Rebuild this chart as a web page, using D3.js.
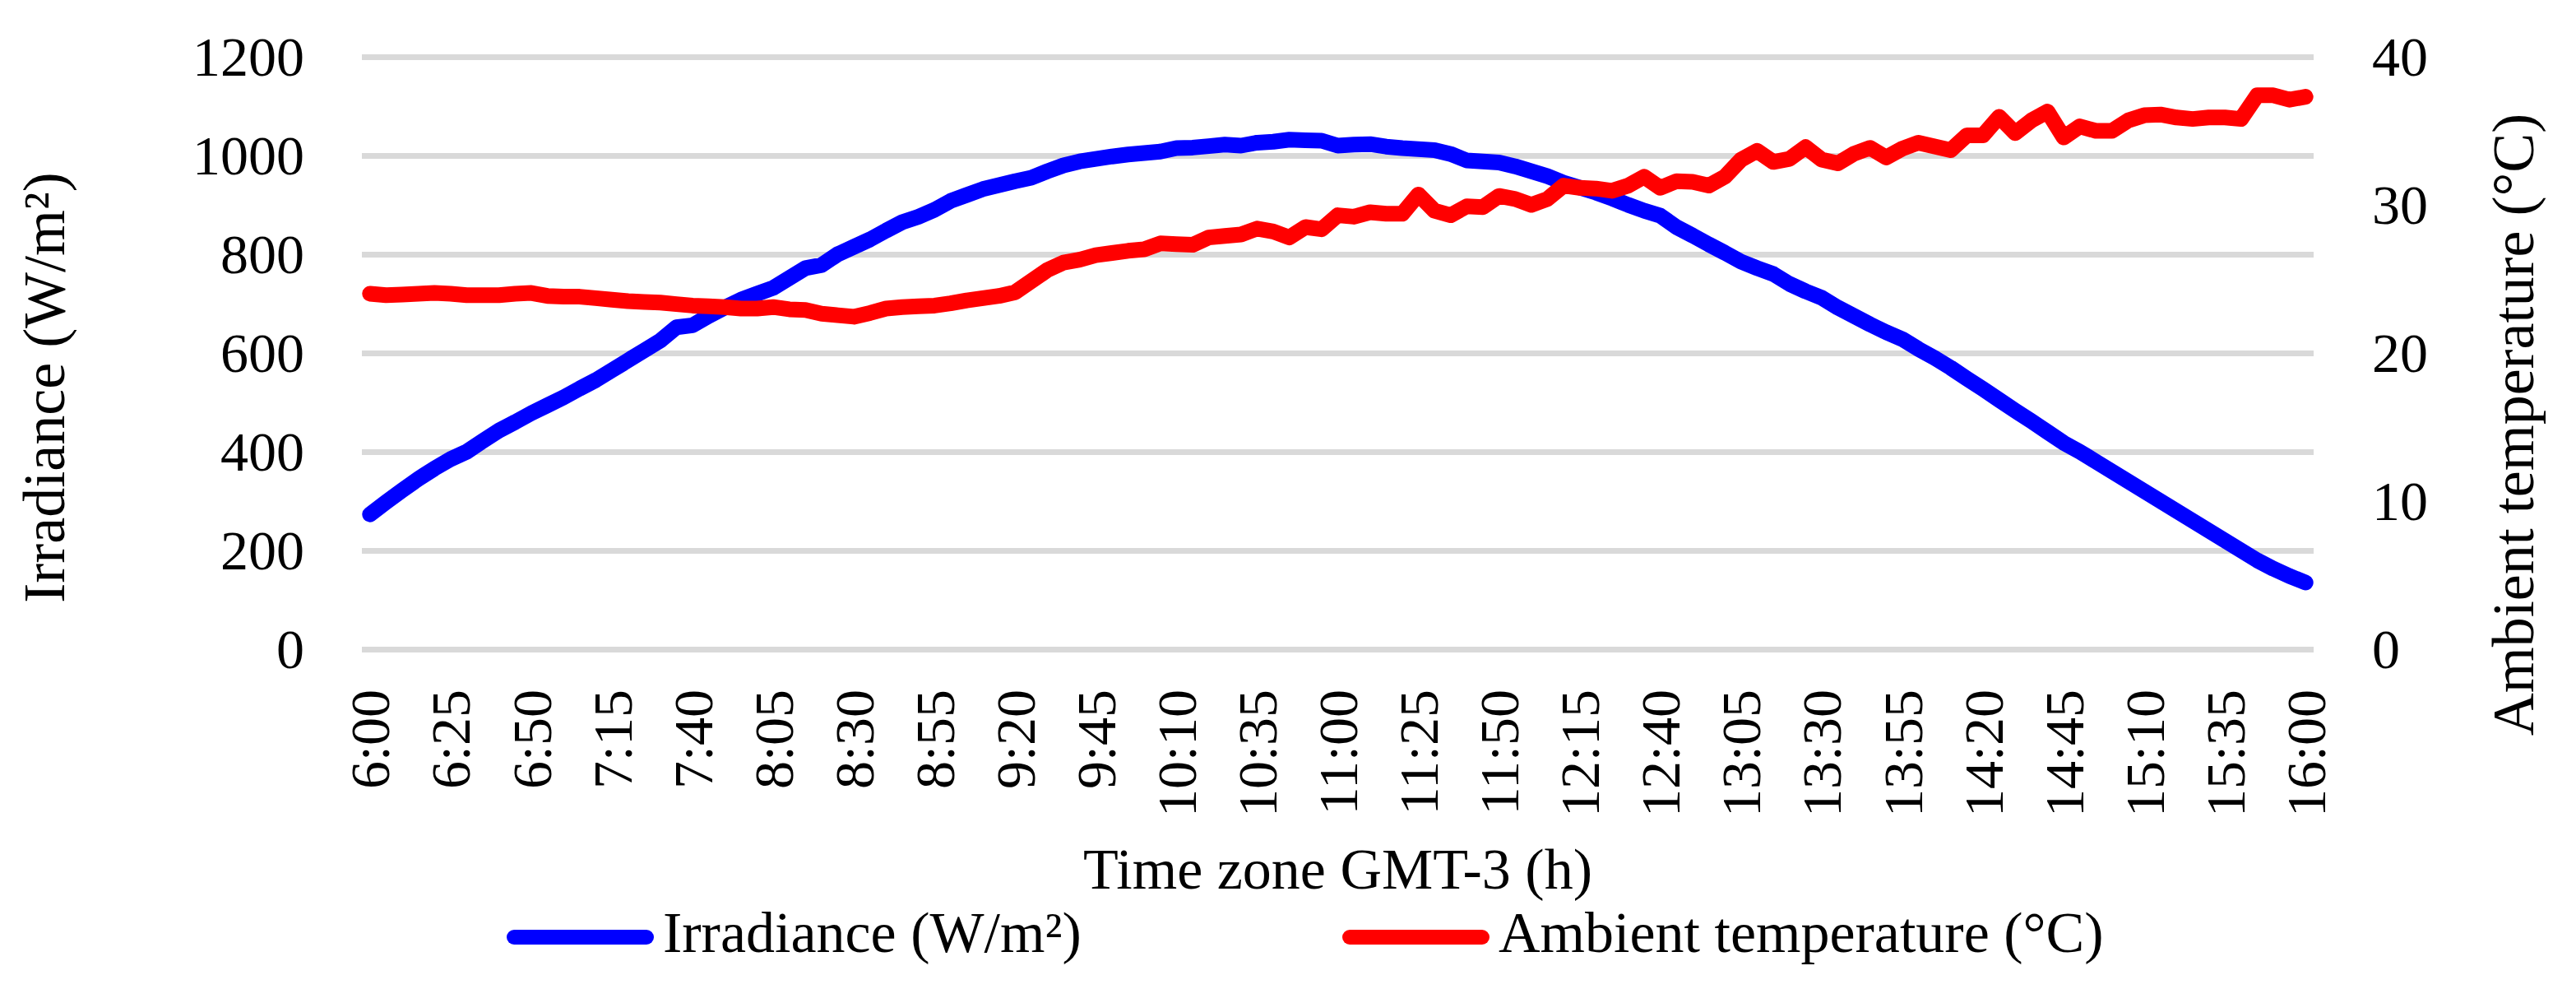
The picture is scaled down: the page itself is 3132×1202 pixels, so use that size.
<!DOCTYPE html>
<html>
<head>
<meta charset="utf-8">
<script src="https://cdn.jsdelivr.net/npm/d3@7"></script>
<style>
  body { margin: 0; background: #fff; }
  text { font-family: "Liberation Serif", "Times New Roman", serif; fill: #000; }
</style>
</head>
<body>
<svg id="chart" width="3132" height="1202"></svg>
<script>
// Datos: 121 lecturas cada 5 min entre 6:00 y 16:00
const startMinutes = 6 * 60;
const stepMinutes = 5;
const tickLabels = [
  "6:00", "6:25", "6:50", "7:15", "7:40", "8:05", "8:30", "8:55", "9:20",
  "9:45", "10:10", "10:35", "11:00", "11:25", "11:50", "12:15", "12:40",
  "13:05", "13:30", "13:55", "14:20", "14:45", "15:10", "15:35", "16:00"
];

const irradiance = [
  273, 298, 322, 345, 366, 385, 400, 422, 443, 460,
  478, 494, 510, 528, 545, 565, 585, 605, 625, 652,
  656, 675, 692, 708, 720, 732, 752, 772, 778, 800,
  815, 830, 848, 865, 876, 890, 908, 920, 932, 940,
  948, 955, 968, 980, 988, 993, 998, 1002, 1005, 1008,
  1015, 1016, 1019, 1022, 1020, 1026, 1028, 1032, 1031, 1030,
  1020, 1022, 1023, 1018, 1015, 1013, 1011, 1003, 990, 988,
  986, 978, 968, 958, 945, 935, 925, 913, 900, 888,
  878, 855, 838, 820, 803, 785, 772, 760, 740, 725,
  712, 692, 675, 658, 642, 628, 608, 590, 570, 548,
  527, 505, 483, 462, 440, 418, 400, 380, 360, 340,
  320, 300, 280, 260, 240, 220, 200, 180, 163, 148,
  135
];

const temperature = [
  24.0, 23.9, 23.95, 24.0, 24.05, 24.0, 23.9, 23.9, 23.9, 24.0,
  24.05, 23.85, 23.8, 23.8, 23.7, 23.6, 23.5, 23.45, 23.4, 23.3,
  23.2, 23.15, 23.1, 23.0, 23.0, 23.1, 22.95, 22.9, 22.65, 22.55,
  22.45, 22.7, 23.0, 23.1, 23.15, 23.2, 23.35, 23.55, 23.7, 23.85,
  24.1, 24.85, 25.6, 26.1, 26.3, 26.6, 26.75, 26.9, 27.0, 27.4,
  27.35, 27.3, 27.8, 27.9, 28.0, 28.4, 28.2, 27.8, 28.5, 28.35,
  29.3, 29.2, 29.5, 29.4, 29.4, 30.7, 29.6, 29.3, 29.9, 29.85,
  30.6, 30.4, 30.0, 30.4, 31.3, 31.15, 31.1, 30.95, 31.3, 31.9,
  31.15, 31.6, 31.55, 31.3, 31.9, 33.05, 33.65, 32.9, 33.1, 33.9,
  33.05, 32.8, 33.45, 33.85, 33.2, 33.8, 34.2, 33.95, 33.7, 34.7,
  34.7, 35.95, 34.85, 35.7, 36.3, 34.55, 35.3, 35.0, 35.0, 35.7,
  36.05, 36.1, 35.9, 35.8, 35.9, 35.9, 35.8, 37.4, 37.4, 37.1,
  37.3
];

const leftTicks = [0, 200, 400, 600, 800, 1000, 1200];
const rightTicks = [0, 10, 20, 30, 40];

const seriesNames = ["Irradiance (W/m\u00b2)", "Ambient temperature (\u00b0C)"];
const seriesColors = ["#0000ff", "#ff0000"];

function fmtTime(m) {
  return Math.floor(m / 60) + ":" + String(m % 60).padStart(2, "0");
}
const categories = irradiance.map((d, i) => fmtTime(startMinutes + i * stepMinutes));

// Layout
const plot = { left: 440, right: 2813, top: 69, bottom: 789 };
const svg = d3.select("#chart");

const x = d3.scalePoint()
  .domain(categories)
  .range([plot.left, plot.right])
  .padding(0.5);

const yLeft = d3.scaleLinear().domain([0, 1200]).range([plot.bottom, plot.top]);
const yRight = d3.scaleLinear().domain([0, 40]).range([plot.bottom, plot.top]);

// Rejilla horizontal
svg.append("g")
  .attr("transform", `translate(${plot.left},0)`)
  .call(d3.axisLeft(yLeft).tickValues(leftTicks).tickSize(-(plot.right - plot.left)).tickFormat(""))
  .call(g => g.select(".domain").remove())
  .call(g => g.selectAll("line").attr("stroke", "#d9d9d9").attr("stroke-width", 7));

// Eje izquierdo
svg.append("g")
  .attr("transform", `translate(${plot.left - 70},0)`)
  .call(d3.axisLeft(yLeft).tickValues(leftTicks).tickSize(0).tickPadding(0).tickFormat(d3.format("d")))
  .call(g => g.select(".domain").remove())
  .call(g => g.selectAll("text")
    .attr("font-size", 68)
    .attr("font-family", null)
    .attr("dy", "0.33em"));

// Eje derecho
svg.append("g")
  .attr("transform", `translate(${2884},0)`)
  .call(d3.axisRight(yRight).tickValues(rightTicks).tickSize(0).tickPadding(0))
  .call(g => g.select(".domain").remove())
  .call(g => g.selectAll("text")
    .attr("font-size", 68)
    .attr("font-family", null)
    .attr("dy", "0.33em"));

// Eje X con etiquetas verticales
svg.append("g")
  .attr("transform", `translate(0,${plot.bottom})`)
  .call(d3.axisBottom(x).tickValues(tickLabels).tickSize(0))
  .call(g => g.select(".domain").remove())
  .call(g => g.selectAll("text")
    .attr("font-size", 68)
    .attr("font-family", null)
    .attr("text-anchor", "end")
    .attr("transform", "rotate(-90)")
    .attr("x", -49)
    .attr("y", 0)
    .attr("dy", "0.34em"));

// Líneas
const lineIrr = d3.line()
  .x((d, i) => x(categories[i]))
  .y(d => yLeft(d));
const lineTemp = d3.line()
  .x((d, i) => x(categories[i]))
  .y(d => yRight(d));

svg.append("path")
  .datum(irradiance)
  .attr("d", lineIrr)
  .attr("fill", "none")
  .attr("stroke", seriesColors[0])
  .attr("stroke-width", 19)
  .attr("stroke-linejoin", "round")
  .attr("stroke-linecap", "round");

svg.append("path")
  .datum(temperature)
  .attr("d", lineTemp)
  .attr("fill", "none")
  .attr("stroke", seriesColors[1])
  .attr("stroke-width", 19)
  .attr("stroke-linejoin", "round")
  .attr("stroke-linecap", "round");

// Títulos de ejes
svg.append("text")
  .attr("transform", `translate(78,471) rotate(-90)`)
  .attr("text-anchor", "middle")
  .attr("font-size", 72)
  .text("Irradiance (W/m\u00b2)");

svg.append("text")
  .attr("transform", `translate(3080,516) rotate(-90)`)
  .attr("text-anchor", "middle")
  .attr("font-size", 72)
  .text("Ambient temperature (\u00b0C)");

svg.append("text")
  .attr("x", (plot.left + plot.right) / 2)
  .attr("y", 1080)
  .attr("text-anchor", "middle")
  .attr("font-size", 70)
  .text("Time zone GMT-3 (h)");

// Leyenda
const legendX = [617, 1633];
const legend = svg.selectAll("g.legend")
  .data(seriesNames)
  .enter()
  .append("g")
  .attr("class", "legend")
  .attr("transform", (d, i) => `translate(${legendX[i]},1139)`);

legend.append("line")
  .attr("x1", 8).attr("x2", 169)
  .attr("stroke", (d, i) => seriesColors[i])
  .attr("stroke-width", 18)
  .attr("stroke-linecap", "round");

legend.append("text")
  .attr("x", 189)
  .attr("y", 18)
  .attr("font-size", 70)
  .text(d => d);
</script>
</body>
</html>
